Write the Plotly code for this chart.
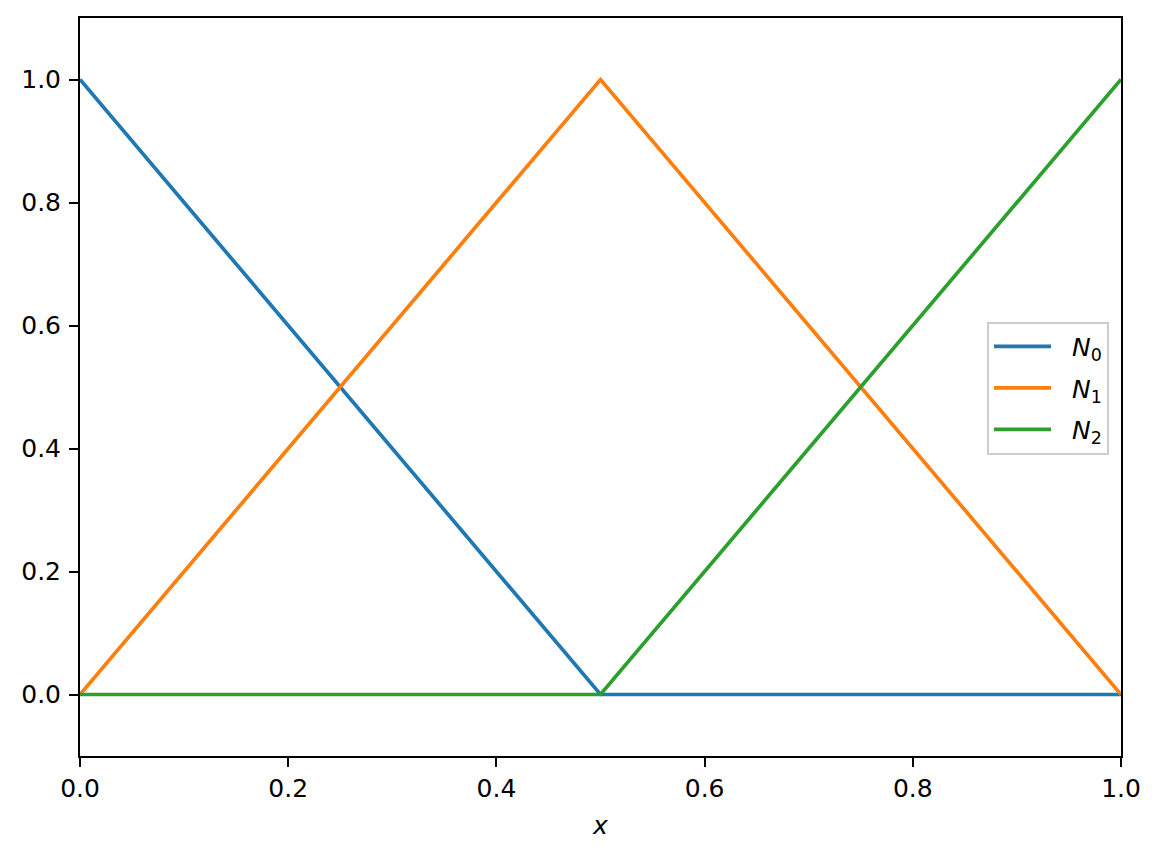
import plotly.graph_objects as go

x = [0.0, 0.5, 1.0]
N0 = [1.0, 0.0, 0.0]
N1 = [0.0, 1.0, 0.0]
N2 = [0.0, 0.0, 1.0]
names = ["&nbsp;&nbsp;<i>N</i><sub>0</sub>", "&nbsp;&nbsp;<i>N</i><sub>1</sub>", "&nbsp;&nbsp;<i>N</i><sub>2</sub>"]
colors = ["#1f77b4", "#ff7f0e", "#2ca02c"]
series = [N0, N1, N2]
tick_vals = [0.0, 0.2, 0.4, 0.6, 0.8, 1.0]

fig = go.Figure()
for i, (ys, nm, c) in enumerate(zip(series, names, colors)):
    fig.add_trace(go.Scatter(x=x, y=ys, mode="lines", name=nm,
                             line=dict(color=c, width=3.7),
                             legendgroup=f"g{i}"))

axis_common = dict(showgrid=False, zeroline=False, showline=True, linecolor="black",
                   linewidth=2, mirror=True, ticks="outside", ticklen=9, tickwidth=2,
                   tickcolor="black", tickfont=dict(size=25, color="black"),
                   tickformat=".1f", tickvals=tick_vals, automargin=False)

fig.update_xaxes(range=[0, 1], title=dict(text="<i>x</i>", font=dict(size=25, color="black"), standoff=14),
                 **axis_common)
fig.update_yaxes(range=[-0.1, 1.1], ticklabelstandoff=3, **axis_common)

fig.update_layout(
    template="none",
    width=1154, height=850,
    margin=dict(l=72, r=41, t=10, b=102),
    plot_bgcolor="white", paper_bgcolor="white",
    font=dict(family="DejaVu Sans", size=25, color="black"),
    legend=dict(x=0.9885, y=0.4986, xanchor="right", yanchor="middle",
                bgcolor="rgba(255,255,255,0.8)", bordercolor="#cccccc", borderwidth=2,
                font=dict(size=25), itemwidth=57, tracegroupgap=6),
    showlegend=True,
)

fig.write_html("out.html")
